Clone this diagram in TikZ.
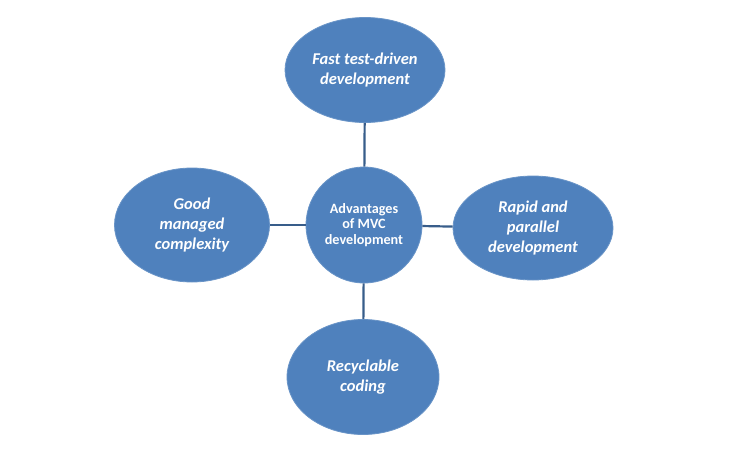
\documentclass[tikz,border=0pt]{standalone}
\usepackage{fontspec}
\setmainfont{Carlito}
\usetikzlibrary{shapes.geometric}
\definecolor{mvcblue}{RGB}{79,129,189}
\definecolor{mvcline}{RGB}{56,93,138}
\begin{document}
\begin{tikzpicture}[
    x=1pt, y=-1pt,
    idea/.style={ellipse, fill=mvcblue, draw=mvcblue!85!white, line width=0.8pt, inner sep=0pt, minimum width=#1, text=white, align=center, font=\bfseries\itshape\fontsize{16.5}{20}\selectfont},
    link/.style={draw=mvcline, line width=2.2pt}
]
    \useasboundingbox (0,0) rectangle (730,450);

    % Mittelpunkt
    \node[circle, fill=mvcblue, draw=mvcblue!85!white, line width=0.8pt, minimum size=116pt, inner sep=0pt, text=white, align=center, font=\bfseries\fontsize{14.2}{15.5}\selectfont] (mvc) at (364,225) {Advantages\\of MVC\\development};

    % Vorteile
    \node[idea=160pt, minimum height=105pt] (fast) at (365,70) {Fast test-driven\\development};
    \node[idea=155pt, minimum height=114pt] (good) at (192,225) {Good\\managed\\complexity};
    \node[idea=160pt, minimum height=104pt] (rapid) at (533,228) {Rapid and\\parallel\\development};
    \node[idea=152pt, minimum height=115pt] (recycle) at (363,377) {Recyclable\\coding};

    \foreach \n in {fast, good, rapid, recycle} {
        \draw[link] (mvc) -- (\n);
    }
\end{tikzpicture}
\end{document}
